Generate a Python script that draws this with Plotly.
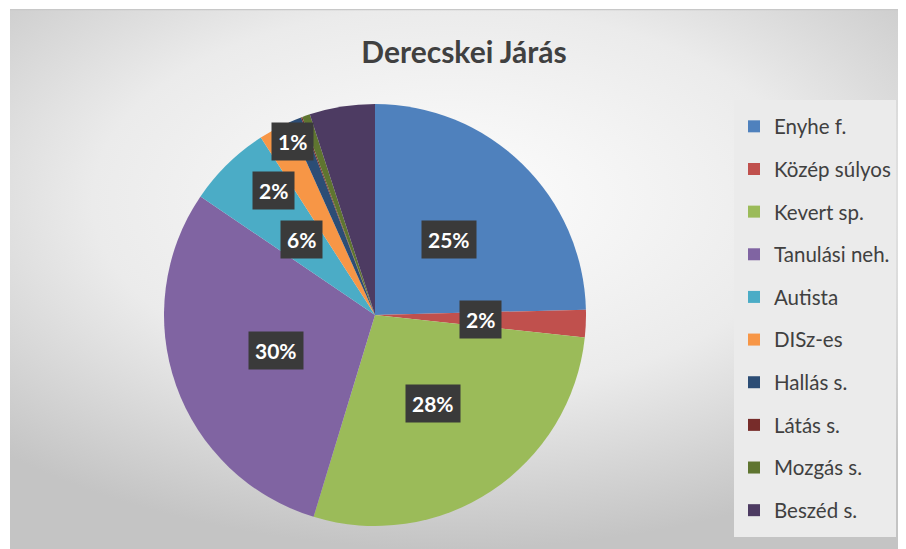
import math
import plotly.graph_objects as go

# ---------------- data ----------------
categories = ["Enyhe f.", "Közép súlyos", "Kevert sp.", "Tanulási neh.", "Autista",
              "DISz-es", "Hallás s.", "Látás s.", "Mozgás s.", "Beszéd s."]
values = [24.6, 2.1, 28.0, 29.8, 6.4, 2.4, 1.0, 0.1, 0.6, 5.0]
labelled = ["Enyhe f.", "Közép súlyos", "Kevert sp.", "Tanulási neh.", "Autista",
            "DISz-es", "Hallás s."]
title_text = "Derecskei Járás"

# ---------------- style ----------------
colors = ["#4F81BD", "#C0504D", "#9BBB59", "#8064A2", "#4BACC6",
          "#F79646", "#2C4D75", "#772C2A", "#5F7530", "#4D3B62"]
P = 8                      # page body margin (figure is drawn from page pixel 8)
W, H = 906 - P, 549 - P    # figure size so that it fills the window exactly
CX, CY, R = 375, 315, 211  # pie centre / radius in page pixels
LABEL_RF = 0.5
label_nudge = {"DISz-es": (0.76, -10.8), "Hallás s.": (0.91, -3.2)}  # (radius frac, angle delta)
FONT = "Lato, 'Open Sans', 'DejaVu Sans', sans-serif"


def fx(xp):
    return (xp - P) / W


def fy(yp):
    return 1 - (yp - P) / H


fig = go.Figure()

# background panel with a soft radial gradient (decoration)
fig.add_trace(go.Scatter(
    x=[-200, 1100, 1100, -200, -200], y=[-150, -150, 549, 549, -150],
    mode="lines", fill="toself", line=dict(width=0),
    fillgradient=dict(type="radial",
                      colorscale=[[0, "#fdfdfd"], [0.55, "#ebebeb"], [1, "#c4c4c4"]]),
    hoverinfo="skip", showlegend=False))

legend_labels = ["<span style='font-size:20.5px;baseline-shift:4.5px'>%s</span>" % c
                 for c in categories]

fig.add_trace(go.Pie(
    labels=legend_labels, values=values, sort=False, direction="clockwise", rotation=0,
    marker=dict(colors=colors, line=dict(width=0)),
    textinfo="none", hoverinfo="label+percent",
    domain=dict(x=[fx(CX - R), fx(CX + R)], y=[fy(CY + R), fy(CY - R)]),
))

# data labels in dark boxes, positioned from the slice angles
total = sum(values)
cum = 0.0
annotations = []
for cat, v in zip(categories, values):
    mid = cum + v / 2.0
    cum += v
    if cat not in labelled:
        continue
    rf, dang = label_nudge.get(cat, (LABEL_RF, 0.0))
    theta = math.radians(mid / total * 360.0 + dang)
    lx = CX + rf * R * math.sin(theta)
    ly = CY - rf * R * math.cos(theta)
    annotations.append(dict(
        x=lx, y=ly, xref="x", yref="y", showarrow=False,
        text="%d%%" % round(v / total * 100),
        font=dict(family=FONT, size=21, color="white", weight="bold"),
        bgcolor="#3a3a3a", borderpad=6))

# top edge line of the chart frame
shapes = [dict(type="line", xref="x", yref="y", x0=10, x1=906, y0=9.5, y1=9.5,
               line=dict(color="#c8c8c8", width=1.5))]

fig.update_layout(
    width=W, height=H,
    margin=dict(l=0, r=0, t=0, b=0),
    paper_bgcolor="white",
    plot_bgcolor="rgba(0,0,0,0)",
    xaxis=dict(range=[10, 906], domain=[fx(10), 1], visible=False, fixedrange=True),
    yaxis=dict(range=[549, 9], domain=[0, fy(9)], visible=False, fixedrange=True),
    title=dict(text=title_text, x=fx(464), xanchor="center", y=fy(52), yanchor="middle",
               font=dict(family=FONT, size=30, color="#404040", weight="bold")),
    legend=dict(x=fx(734), xanchor="left", y=fy(100), yanchor="top",
                bgcolor="#ebebeb", borderwidth=0,
                font=dict(family=FONT, size=30.5, color="#404040")),
    annotations=annotations,
    shapes=shapes,
    showlegend=True,
)

fig.write_html("out.html")
